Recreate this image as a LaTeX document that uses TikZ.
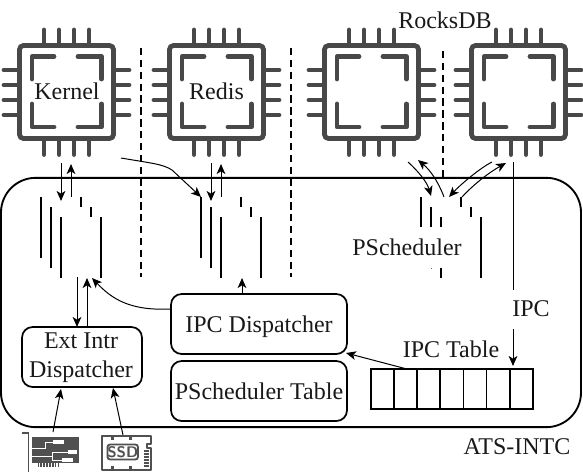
\documentclass[tikz,border=0pt]{standalone}
\usepackage{fontspec}
\setmainfont{Liberation Serif}
\usetikzlibrary{arrows.meta,calc}
\definecolor{chipgray}{HTML}{484848}
\definecolor{icongray}{HTML}{505050}
\tikzset{
  chippic/.pic={
    \draw[chipgray,line width=3.6pt,rounded corners=3pt] (19.5,45.5) rectangle (113.5,138.5);
    \foreach \p in {44,59,74,89}{
      \draw[chipgray,line width=3.6pt,line cap=round] (\p,30)--(\p,43);
      \draw[chipgray,line width=3.6pt,line cap=round] (\p,141)--(\p,154.5);
    }
    \foreach \p in {70,85,100,115}{
      \draw[chipgray,line width=3.6pt,line cap=round] (4,\p)--(17,\p);
      \draw[chipgray,line width=3.6pt,line cap=round] (116,\p)--(129,\p);
    }
    \draw[chipgray,line width=3.6pt,line cap=round,line join=round] (32,79)--(32,56.5)--(54,56.5);
    \draw[chipgray,line width=3.6pt,line cap=round,line join=round] (78,56.5)--(101.5,56.5)--(101.5,79);
    \draw[chipgray,line width=3.6pt,line cap=round,line join=round] (32,104)--(32,127)--(54,127);
    \draw[chipgray,line width=3.6pt,line cap=round,line join=round] (78,127)--(101.5,127)--(101.5,104);
  },
  txt/.style={font=\fontsize{18}{22}\selectfont,inner sep=0pt,anchor=base,text=black!90},
  divider/.style={line width=1.3pt,dash pattern=on 5.5pt off 3.4pt},
  bar/.style={line width=1.3pt},
  thin arrow/.style={line width=0.75pt,-{Stealth[length=7.5pt,width=6.5pt,inset=2pt]}},
  box/.style={draw,line width=1.3pt,rounded corners=8pt,inner sep=0pt},
  cell/.style={draw,line width=1.3pt,inner sep=0pt,minimum width=17.35pt,minimum height=30pt}
}
\begin{document}
\begin{tikzpicture}[x=0.75pt,y=-0.75pt]
\useasboundingbox (0,0) rectangle (583,472);
% dashed separators
\coordinate (d1a) at (141,48); \coordinate (d1b) at (141,277);
\coordinate (d2a) at (291,48); \coordinate (d2b) at (291,277);
\coordinate (d3a) at (443,51); \coordinate (d3b) at (443,177);
\draw[divider] (d1a)--(d1b);
\draw[divider] (d2a)--(d2b);
\draw[divider] (d3a)--(d3b);
% ATS-INTC frame
\node[draw,line width=1.4pt,rounded corners=26pt,minimum width=435pt,minimum height=187pt,inner sep=0pt,fill=none] (frame) at (291,302.5) {};
% chips
\pic at (0,0) {chippic};
\pic at (150,0) {chippic};
\pic at (305,0) {chippic};
\pic at (452,0) {chippic};
\node[txt] (kernel) at (67,99.5) {Kernel};
\node[txt] (redis) at (216.5,99.5) {Redis};
\node[txt] (rocks) at (445,28) {RocksDB};
% stair bars
\foreach \dx in {0,160}{
  \draw[bar] (41+\dx,197)--(41+\dx,258);
  \draw[bar] (51+\dx,207)--(51+\dx,268);
  \draw[bar] (61+\dx,217)--(61+\dx,278);
  \draw[bar] (81+\dx,197)--(81+\dx,207);
  \draw[bar] (91+\dx,207)--(91+\dx,217);
  \draw[bar] (101+\dx,217)--(101+\dx,278);
}
\draw[bar] (421,197)--(421,227);
\draw[bar] (431,207)--(431,227);
\draw[bar] (441,217)--(441,227);
\draw[bar] (441,268)--(441,278);
\draw[bar] (461,197)--(461,207);
\draw[bar] (471,207)--(471,217);
\draw[bar] (481,217)--(481,278);
\draw[line width=0.5pt,black!60] (431,268)--(431,269);
% boxes
\node[box,minimum width=90pt,minimum height=45pt] (ext) at (82,357) {};
\node[box,minimum width=132pt,minimum height=45pt] (ipcd) at (259,324) {};
\node[box,minimum width=132pt,minimum height=45pt] (psch) at (259,391) {};
\node[txt] (extA) at (81,348) {Ext Intr};
\node[txt] (extB) at (81,377) {Dispatcher};
\node[txt] (ipcdt) at (259,332) {IPC Dispatcher};
\node[txt] (pscht) at (259,399) {PScheduler Table};
\node[txt] (pst) at (407,255) {PScheduler};
\node[txt] (ipct) at (451,357) {IPC Table};
\node[txt] (ipcl) at (531,316) {IPC};
\node[txt] (ats) at (517,454) {ATS-INTC};
% IPC table
\foreach \i in {0,...,6}{
  \node[cell] (c\i) at (382.5+23.13*\i,389) {};
}
% connector ends
\coordinate (k1) at (61,163); \coordinate (k2) at (61,201);
\coordinate (k3) at (71,197); \coordinate (k4) at (71,164);
\coordinate (r1) at (211,163); \coordinate (r2) at (211,201);
\coordinate (r3) at (221,197); \coordinate (r4) at (221,164);
\coordinate (x1) at (121,158); \coordinate (x2) at (201,197);
\coordinate (p1) at (408,162); \coordinate (p2) at (431,196);
\coordinate (p3) at (444,197); \coordinate (p4) at (418,160);
\coordinate (p5) at (492,162); \coordinate (p6) at (449,197);
\coordinate (p7) at (462,197); \coordinate (p8) at (506,163);
\coordinate (ia) at (513,162); \coordinate (ib) at (513,290);
\coordinate (ic) at (513,329); \coordinate (id) at (513,366);
\coordinate (e1) at (77,277); \coordinate (e2) at (77,327);
\coordinate (e3) at (87,327); \coordinate (e4) at (87,278);
\coordinate (u1) at (242,294); \coordinate (u2) at (242,278);
\coordinate (q1) at (171,309); \coordinate (q2) at (92,278);
\coordinate (t1) at (405,368.5); \coordinate (t2) at (346,353);
\coordinate (n1) at (53,432); \coordinate (n2) at (61,389);
\coordinate (s1) at (123,435); \coordinate (s2) at (113,388);
% connectors
\draw[thin arrow] (k1)--(k2);
\draw[thin arrow] (k3)--(k4);
\draw[thin arrow] (r1)--(r2);
\draw[thin arrow] (r3)--(r4);
\draw[thin arrow] (x1) .. controls (150,163) and (163,164) .. (172,170) -- (x2);
\draw[thin arrow] (p1) .. controls (418,171) and (427,182) .. (p2);
\draw[thin arrow] (p3) .. controls (438,181) and (430,170) .. (p4);
\draw[thin arrow] (p5) .. controls (480,168) and (460,185) .. (p6);
\draw[thin arrow] (p7) .. controls (475,183) and (490,172) .. (p8);
\draw[line width=0.75pt] (ia)--(ib);
\draw[thin arrow] (ic)--(id);
\draw[thin arrow] (e1)--(e2);
\draw[thin arrow] (e3)--(e4);
\draw[thin arrow] (u1)--(u2);
\draw[thin arrow] (q1) .. controls (130,311) and (112,299) .. (q2);
\draw[thin arrow] (t1)--(t2);
\draw[thin arrow] (n1)--(n2);
\draw[thin arrow] (s1)--(s2);
% NIC icon
\draw[icongray,line width=1.4pt] (22,433)--(28.5,433)--(28.5,472);
\fill[icongray] (32,437) rectangle (79,463);
\foreach \k in {0,...,7}{\fill[icongray] (37.5+2.9*\k,463) rectangle (39+2.9*\k,467);}
\fill[white] (53,440) rectangle (64,444);
\fill[white] (68,450) rectangle (77,454);
\fill[white] (62,458) rectangle (73,462);
\draw[white,line width=0.75pt] (32,448)--(45,448)--(45,442)--(53,442);
\draw[white,line width=0.75pt] (32,456)--(52,456);
\draw[white,line width=0.75pt] (52,461)--(52,452)--(68,452);
\draw[white,line width=0.75pt] (52,460)--(62,460);
% SSD icon
\draw[icongray,line width=1.1pt,line join=round] (102,436)--(151,436)--(151,444)--(147,444)--(147,448)--(151,448)--(151,470)--(102,470)--cycle;
\draw[icongray,line width=1.4pt,rounded corners=2pt] (107.5,444.5) rectangle (138,459.5);
\foreach \xx in {111,129}{\fill[icongray] (\xx,436) rectangle (\xx+3,440);\fill[icongray] (\xx,466) rectangle (\xx+3,470);}
\foreach \yy in {450,453,456,459,462,465}{\fill[icongray] (144,\yy) rectangle (149,\yy+1.5);}
\node[font=\fontsize{11.5}{11.5}\selectfont\bfseries\sffamily,text=icongray,inner sep=0pt] (ssdt) at (122.8,452) {SSD};
\end{tikzpicture}
\end{document}
